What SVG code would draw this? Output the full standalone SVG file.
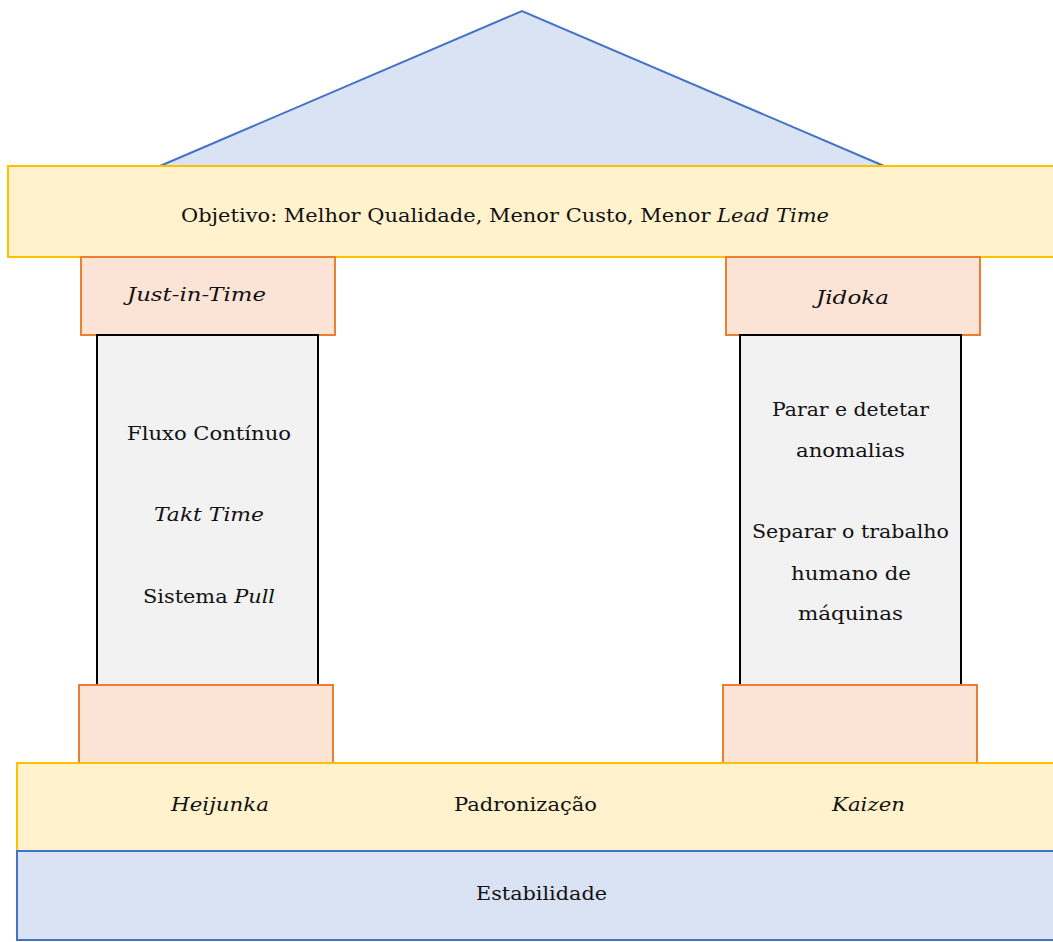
<svg xmlns="http://www.w3.org/2000/svg" width="1053" height="942" viewBox="0 0 1053 942">
  <style>
    .roof { fill: #dae3f3; stroke: #4472c4; stroke-width: 2; }
    .beam { fill: #fff2cc; stroke: #ffc000; stroke-width: 2; }
    .cap { fill: #fbe3d6; stroke: #ed7d31; stroke-width: 2; }
    .shaft { fill: #f2f2f2; stroke: #000000; stroke-width: 2; }
    .base { fill: #dae3f3; stroke: #4472c4; stroke-width: 2; }
    text { font-family: "DejaVu Serif", "Liberation Serif", serif; font-size: 19px; fill: #111111; }
    .it { font-style: italic; }
  </style>

  <!-- roof -->
  <g id="roof">
    <polygon class="roof" points="160,166 522,11 884,166"/>
  </g>

  <!-- goal beam -->
  <g id="objetivo">
    <rect class="beam" x="8" y="166" width="1050" height="91"/>
    <text x="181" y="222" textLength="648" lengthAdjust="spacingAndGlyphs">Objetivo: Melhor Qualidade, Menor Custo, Menor <tspan class="it">Lead Time</tspan></text>
  </g>

  <!-- left pillar: Just-in-Time -->
  <g id="jit-capital">
    <rect class="cap" x="81" y="257" width="254" height="78"/>
    <text class="it" x="127" y="301" textLength="139" lengthAdjust="spacingAndGlyphs">Just-in-Time</text>
  </g>
  <g id="jit-shaft">
    <rect class="shaft" x="97" y="335" width="221" height="350"/>
    <text x="127" y="440" textLength="164" lengthAdjust="spacingAndGlyphs">Fluxo Contínuo</text>
    <text class="it" x="154" y="521" textLength="110" lengthAdjust="spacingAndGlyphs">Takt Time</text>
    <text x="143" y="603" textLength="132" lengthAdjust="spacingAndGlyphs">Sistema <tspan class="it">Pull</tspan></text>
  </g>
  <g id="jit-base">
    <rect class="cap" x="79" y="685" width="254" height="78"/>
  </g>

  <!-- right pillar: Jidoka -->
  <g id="jidoka-capital">
    <rect class="cap" x="726" y="257" width="254" height="78"/>
    <text class="it" x="816" y="304" textLength="73" lengthAdjust="spacingAndGlyphs">Jidoka</text>
  </g>
  <g id="jidoka-shaft">
    <rect class="shaft" x="740" y="335" width="221" height="350"/>
    <text x="772" y="416" textLength="157" lengthAdjust="spacingAndGlyphs">Parar e detetar</text>
    <text x="796" y="457" textLength="109" lengthAdjust="spacingAndGlyphs">anomalias</text>
    <text x="752" y="538" textLength="197" lengthAdjust="spacingAndGlyphs">Separar o trabalho</text>
    <text x="791" y="580" textLength="120" lengthAdjust="spacingAndGlyphs">humano de</text>
    <text x="798" y="620" textLength="105" lengthAdjust="spacingAndGlyphs">máquinas</text>
  </g>
  <g id="jidoka-base">
    <rect class="cap" x="723" y="685" width="254" height="78"/>
  </g>

  <!-- foundation beam -->
  <g id="fundacao">
    <rect class="beam" x="17" y="763" width="1040" height="88"/>
    <text class="it" x="171" y="811" textLength="98" lengthAdjust="spacingAndGlyphs">Heijunka</text>
    <text x="454" y="811" textLength="143" lengthAdjust="spacingAndGlyphs">Padronização</text>
    <text class="it" x="832" y="811" textLength="73" lengthAdjust="spacingAndGlyphs">Kaizen</text>
  </g>

  <!-- stability base -->
  <g id="estabilidade">
    <rect class="base" x="17" y="851" width="1040" height="89"/>
    <text x="476" y="900" textLength="131" lengthAdjust="spacingAndGlyphs">Estabilidade</text>
  </g>

  <!-- no connectors in this diagram -->
  <g id="connectors"/>
</svg>
